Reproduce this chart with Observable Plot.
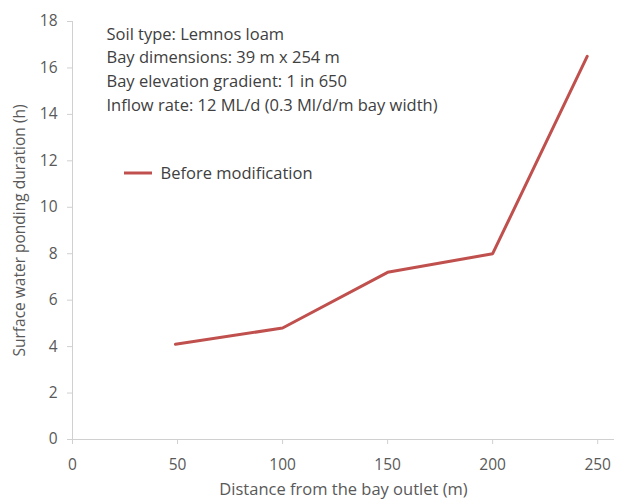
<!DOCTYPE html>
<html><head><meta charset="utf-8">
<script src="https://cdn.jsdelivr.net/npm/d3@7"></script>
<script src="https://cdn.jsdelivr.net/npm/@observablehq/plot@0.6"></script>
<style>
html,body{margin:0;padding:0;background:#fff;}
#chart svg{display:block;}
</style>
</head><body><div id="chart"></div>
<script>
const distance = [49, 100, 150, 200, 245];
const duration = [4.1, 4.8, 7.2, 8.0, 16.5];
const seriesName = "Before modification";
const xTicks = [0, 50, 100, 150, 200, 250];
const yTicks = [0, 2, 4, 6, 8, 10, 12, 14, 16, 18];
const notes = [
  "Soil type: Lemnos loam",
  "Bay dimensions: 39 m x 254 m",
  "Bay elevation gradient: 1 in 650",
  "Inflow rate: 12 ML/d (0.3 Ml/d/m bay width)"
];
const yTitle = "Surface water ponding duration (h)";
const xTitle = "Distance from the bay outlet (m)";

const data = distance.map((d, i) => ({x: d, y: duration[i]}));
const axisColor = "#d0d0d0";
const textColor = "#595959";
const noteColor = "#404040";
const lineColor = "#C0504D";
const font = "'Open Sans', Lato, sans-serif";

const legendSwatch = () => {
  const g = d3.create("svg:g");
  g.append("line").attr("x1", 124).attr("x2", 152).attr("y1", 173).attr("y2", 173)
    .attr("stroke", lineColor).attr("stroke-width", 3);
  return g.node();
};

const chart = Plot.plot({
  width: 618,
  height: 502,
  marginLeft: 72,
  marginRight: 4,
  marginTop: 21,
  marginBottom: 63,
  style: {fontFamily: font, background: "#fff"},
  x: {domain: [0, 258]},
  y: {domain: [0, 18]},
  marks: [
    Plot.axisY({ticks: yTicks, tickSize: 5, tickPadding: 10, stroke: axisColor, fill: textColor, fontSize: 15.5, label: null}),
    Plot.axisX({ticks: xTicks, tickSize: 5, tickPadding: 14, stroke: axisColor, fill: textColor, fontSize: 15.5, label: null}),
    Plot.ruleX([0], {stroke: axisColor}),
    Plot.ruleY([0], {stroke: axisColor}),
    Plot.line(data, {x: "x", y: "y", stroke: lineColor, strokeWidth: 3}),
    Plot.text([notes.join("\n")], {text: d => d, frameAnchor: "top-left", dx: 34, dy: 1, textAnchor: "start", lineAnchor: "top", lineHeight: 1.45, fill: noteColor, fontSize: 16.5}),
    Plot.line([[0, 0], [1, 0]], {x: d => d[0], y: d => d[1], render: legendSwatch}),
    Plot.text([seriesName], {text: d => d, frameAnchor: "top-left", dx: 88, dy: 152, textAnchor: "start", lineAnchor: "middle", fill: noteColor, fontSize: 16.5}),
    Plot.text([yTitle], {text: d => d, frameAnchor: "left", dx: -52, rotate: -90, textAnchor: "middle", fill: textColor, fontSize: 15.5}),
    Plot.text([xTitle], {text: d => d, frameAnchor: "bottom", dy: 55, fill: textColor, fontSize: 16.5})
  ]
});
document.getElementById("chart").appendChild(chart);
</script>
</body></html>
